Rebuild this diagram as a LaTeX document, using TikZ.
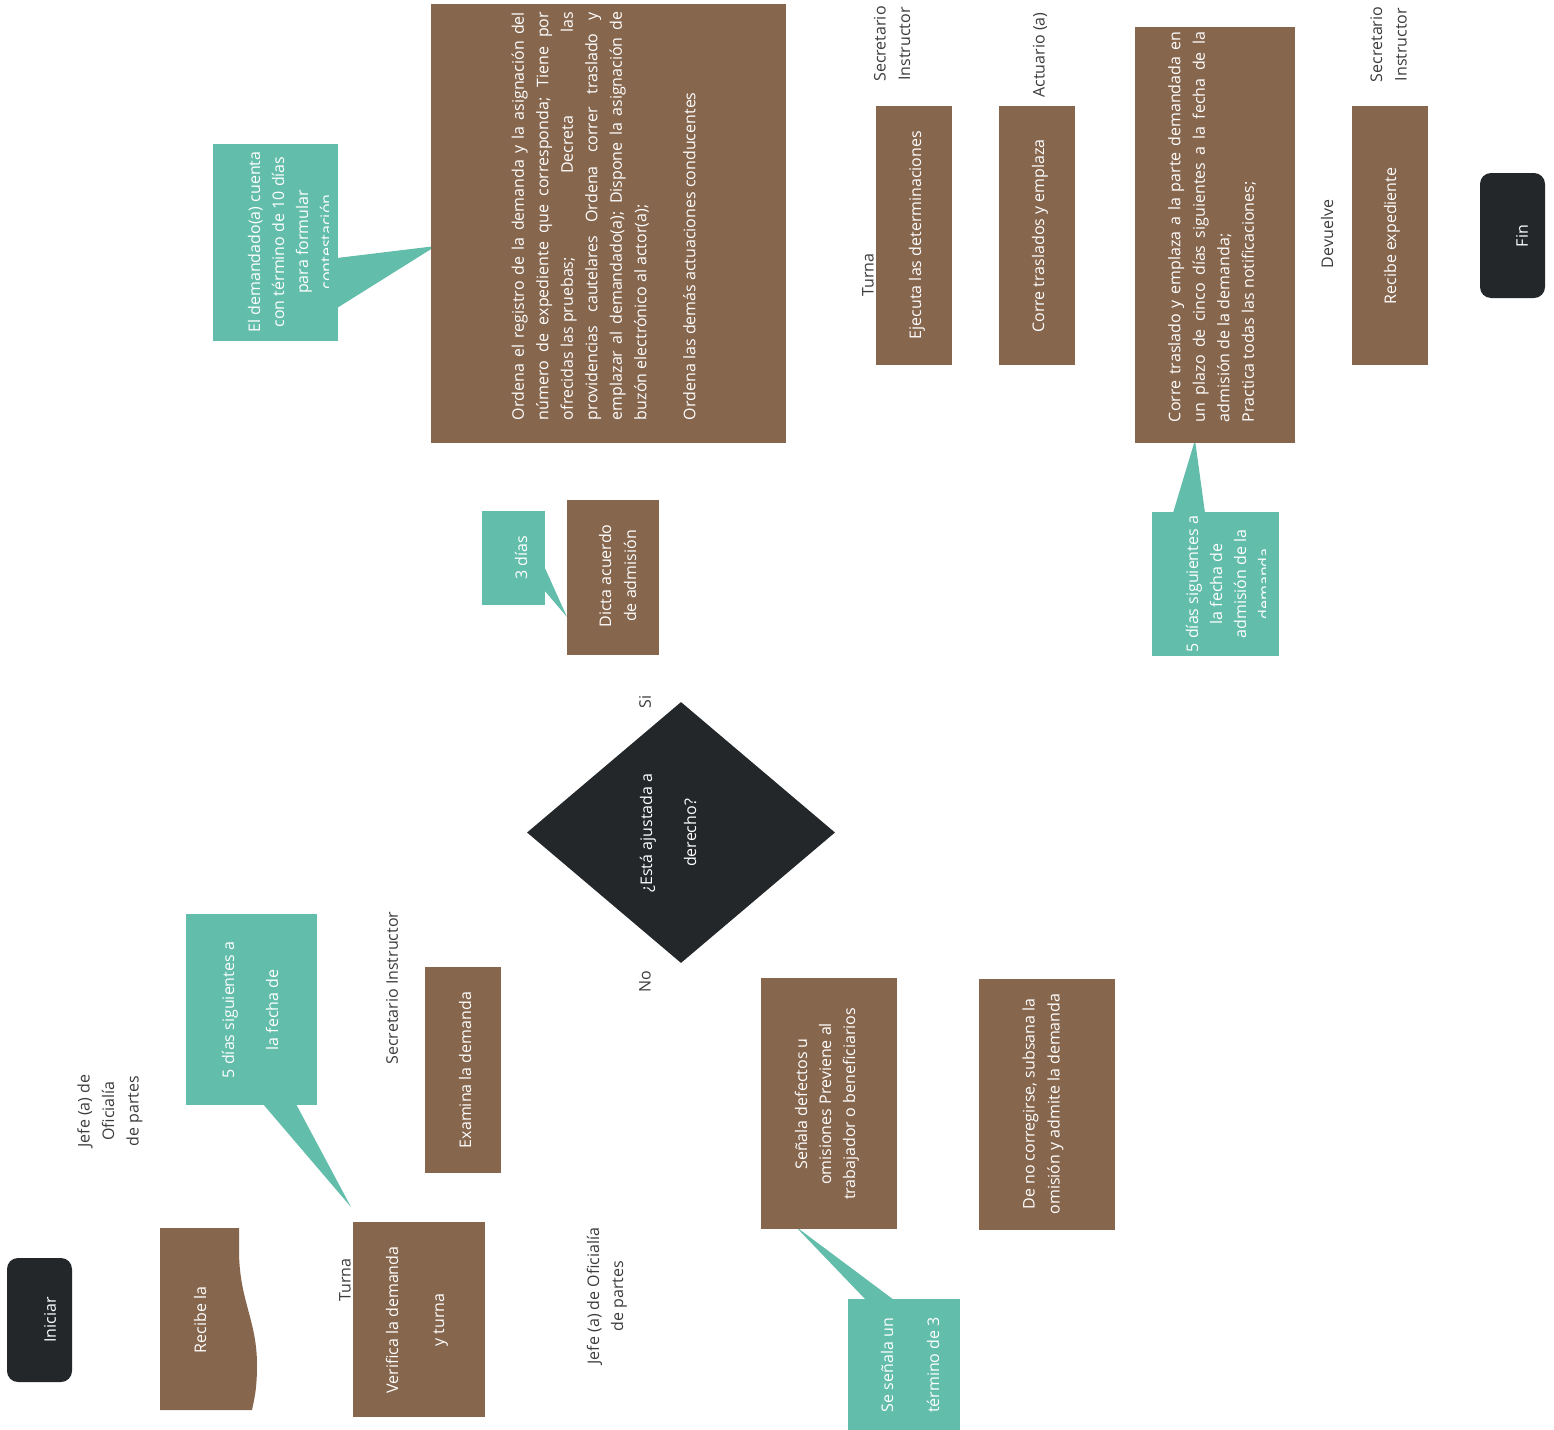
\documentclass[tikz,border=0pt]{standalone}
\usepackage{fontspec}
\setmainfont{Open Sans}
\usetikzlibrary{shapes.geometric}
\definecolor{brn}{HTML}{87664E}
\definecolor{tealc}{HTML}{62BDAB}
\definecolor{darkc}{HTML}{23272A}
\definecolor{labc}{HTML}{3C3C3C}
\newcommand\fsz[1]{\fontsize{16}{#1}\selectfont}
\begin{document}
\begin{tikzpicture}[x=1pt,y=-1pt,
 box/.style={fill=brn, inner sep=0pt, rotate=90},
 cbox/.style={fill=tealc, inner sep=0pt, rotate=90},
 term/.style={fill=darkc, inner sep=0pt, rotate=90, rounded corners=11pt},
 wtxt/.style={text=white, rotate=90, align=center, inner sep=0pt, font=\fsz{24.5}},
 ptxt/.style={text=white, rotate=90, inner sep=0pt},
 ltxt/.style={text=labc, rotate=90, align=center, inner sep=0pt, font=\fsz{24.5}},
]
\useasboundingbox (0,0) rectangle (1554,1429);
\fill[white] (0,0) rectangle (1554,1429);

% Start
\node[term, minimum width=124pt, minimum height=65pt] (ini) at (39.5,1320) {};
\node[wtxt] (ini-t) at (50,1320) {Iniciar};

% Recibe la (document shape)
\fill[brn] (160,1228) -- (239,1228) -- (239,1250) .. controls (239,1300) and (257,1320) .. (257,1365) .. controls (257,1390) and (254,1400) .. (252,1410) -- (160,1410) -- cycle;
\node[wtxt] (recibe-t) at (200,1320) {Recibe la};

% Labels lane 1
\node[ltxt] (jefe1) at (110,1111) {Jefe (a) de\\Oficialía\\de partes};

% Callout 5 dias (left)
\fill[tealc] (263,1104) -- (296,1104) -- (351,1207) -- cycle;
\node[cbox, minimum width=191pt, minimum height=131pt] (c1) at (251.5,1009.5) {};
\node[wtxt, font=\fsz{44}] (c1-t) at (250,1010) {5 días siguientes a\\la fecha de};

% Verifica
\node[ltxt] (turna1) at (345,1280) {Turna};
\node[box, minimum width=195pt, minimum height=132pt] (verif) at (419,1319.5) {};
\node[wtxt, font=\fsz{46}] (verif-t) at (417,1320) {Verifica la demanda\\y turna};

% Examina
\node[ltxt] (sec1) at (392,988) {Secretario Instructor};
\node[box, minimum width=206pt, minimum height=76pt] (exam) at (463,1070) {};
\node[wtxt] (exam-t) at (465,1070) {Examina la demanda};

% Jefe 2
\node[ltxt, font=\fsz{24}] (jefe2) at (607,1296) {Jefe (a) de Oficialía\\de partes};

% Decision
\node[diamond, fill=darkc, minimum width=308pt, minimum height=261pt, inner sep=0pt] (dec) at (681,832.5) {};
\node[wtxt, font=\fsz{44}] (dec-t) at (668,833) {¿Está ajustada a\\derecho?};
\node[ltxt] (si) at (645,702) {Si};
\node[ltxt] (no) at (645,982) {No};

% Dicta
\fill[tealc] (544,566) -- (544,590) -- (567,617) -- cycle;
\node[cbox, minimum width=94pt, minimum height=63pt] (c3d) at (513.5,558) {};
\node[wtxt] (c3d-t) at (521,558) {3 días};
\node[box, minimum width=155pt, minimum height=92pt] (dicta) at (613,577.5) {};
\node[wtxt, font=\fsz{25}] (dicta-t) at (617.5,576) {Dicta acuerdo\\de admisión};

% Callout demandado
\fill[tealc] (337,258) -- (337,308) -- (436,246) -- cycle;
\node[cbox, minimum width=197pt, minimum height=125pt] (c2) at (275.5,242.5) {};
\begin{scope}
\clip (213,144) rectangle (328,341);
\node[wtxt, font=\fsz{24}] (c2-t) at (290,242) {El demandado(a) cuenta\\con término de 10 días\\para formular\\contestación};
\end{scope}

% Big box 1
\node[box, minimum width=439pt, minimum height=355pt] (big1) at (608.5,223.5) {};
\node[ptxt] (big1-t) at (603.5,216) {\parbox{408pt}{\fsz{24.5}\parindent0pt Ordena el registro de la demanda y la asignación del\linebreak número de expediente que corresponda; Tiene por\linebreak ofrecidas las pruebas;\hfill Decreta\hfill las\linebreak providencias cautelares Ordena correr traslado y\linebreak emplazar al demandado(a); Dispone la asignación de\linebreak buzón electrónico al actor(a);\par\mbox{}\par Ordena las demás actuaciones conducentes}};

% Ejecuta
\node[ltxt] (sec2) at (892,44) {Secretario\\Instructor};
\node[ltxt] (turna2) at (868,275) {Turna};
\node[box, minimum width=259pt, minimum height=76pt] (ejec) at (914,235.5) {};
\node[wtxt] (ejec-t) at (917,235) {Ejecuta las determinaciones};

% Actuario
\node[ltxt] (act) at (1040,55) {Actuario (a)};
\node[box, minimum width=259pt, minimum height=76pt] (corre) at (1037,235.5) {};
\node[wtxt] (corre-t) at (1040,236) {Corre traslados y emplaza};

% Big box 2 and callout
\fill[tealc] (1173,513) -- (1205,513) -- (1195,440) -- cycle;
\node[cbox, minimum width=144pt, minimum height=127pt] (c4) at (1215.5,584) {};
\begin{scope}
\clip (1152,512) rectangle (1265,656);
\node[wtxt, font=\fsz{24}] (c4-t) at (1228,584) {5 días siguientes a\\la fecha de\\admisión de la\\demanda};
\end{scope}
\node[box, minimum width=416pt, minimum height=160pt] (big2) at (1215,235) {};
\node[ptxt] (big2-t) at (1212,227) {\parbox{390pt}{\fsz{24.5}\parindent0pt Corre traslado y emplaza a la parte demandada en\linebreak un plazo de cinco días siguientes a la fecha de la\linebreak admisión de la demanda;\par Practica todas las notificaciones;}};

% Devuelve / Recibe expediente
\node[ltxt] (dev) at (1327,234) {Devuelve};
\node[ltxt] (sec3) at (1388.5,44.5) {Secretario\\Instructor};
\node[box, minimum width=259pt, minimum height=76pt] (recexp) at (1390,235.5) {};
\node[wtxt] (recexp-t) at (1392,236) {Recibe expediente};

% Fin
\node[term, minimum width=125pt, minimum height=65pt] (fin) at (1512.5,235.5) {};
\node[wtxt] (fin-t) at (1522,236) {Fin};

% Senala
\fill[tealc] (866,1300) -- (894,1300) -- (795,1226) -- cycle;
\node[box, minimum width=251pt, minimum height=136pt] (senala) at (829,1103.5) {};
\node[wtxt, font=\fsz{24}] (senala-t) at (827,1104) {Señala defectos u\\omisiones Previene al\\trabajador o beneficiarios};
\node[cbox, minimum width=141pt, minimum height=112pt] (c5) at (904,1369.5) {};
\node[wtxt, font=\fsz{46}] (c5-t) at (910,1365) {Se señala un\\término de 3};

% De no corregirse
\node[box, minimum width=251pt, minimum height=136pt] (deno) at (1047,1104.5) {};
\node[wtxt, font=\fsz{25}] (deno-t) at (1043,1104) {De no corregirse, subsana la\\omisión y admite la demanda};
\end{tikzpicture}
\end{document}
